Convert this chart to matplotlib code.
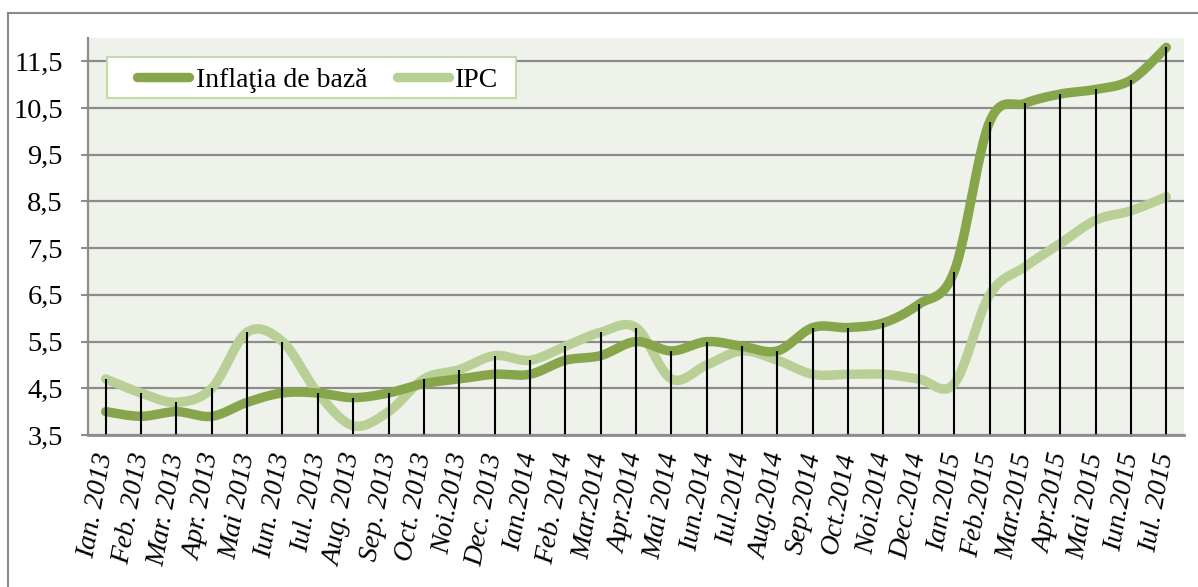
import numpy as np
import matplotlib
matplotlib.use("Agg")
import matplotlib.pyplot as plt
from matplotlib.lines import Line2D
from matplotlib.patches import Rectangle

plt.rcParams['font.family'] = ['Liberation Serif', 'DejaVu Serif']

months = ["Ian. 2013", "Feb. 2013", "Mar. 2013", "Apr. 2013", "Mai 2013", "Iun. 2013",
          "Iul. 2013", "Aug. 2013", "Sep. 2013", "Oct. 2013", "Noi.2013", "Dec. 2013",
          "Ian.2014", "Feb. 2014", "Mar.2014", "Apr.2014", "Mai 2014", "Iun.2014",
          "Iul.2014", "Aug.2014", "Sep.2014", "Oct.2014", "Noi.2014", "Dec.2014",
          "Ian.2015", "Feb.2015", "Mar.2015", "Apr.2015", "Mai 2015", "Iun.2015", "Iul. 2015"]
core = [4.0, 3.9, 4.0, 3.9, 4.2, 4.4, 4.4, 4.3, 4.4, 4.6, 4.7, 4.8, 4.8, 5.1, 5.2, 5.5,
        5.3, 5.5, 5.4, 5.3, 5.8, 5.8, 5.9, 6.3, 7.0, 10.2, 10.6, 10.8, 10.9, 11.1, 11.8]
ipc = [4.7, 4.4, 4.2, 4.5, 5.7, 5.5, 4.4, 3.7, 4.0, 4.7, 4.9, 5.2, 5.1, 5.4, 5.7, 5.8,
       4.7, 5.0, 5.3, 5.1, 4.8, 4.8, 4.8, 4.7, 4.6, 6.5, 7.1, 7.6, 8.1, 8.3, 8.6]
yticks = [3.5, 4.5, 5.5, 6.5, 7.5, 8.5, 9.5, 10.5, 11.5]
labels = ["Inflaţia de bază", "IPC"]

CORE_C = "#87a64b"
IPC_C = "#b8cf96"


def smooth(yv, n=40):
    """Excel-style smoothed line (Catmull-Rom Bezier through the points)."""
    yv = np.asarray(yv, float)
    xv = np.arange(len(yv), dtype=float)
    P = np.column_stack([xv, yv])
    out = []
    t = np.linspace(0, 1, n)[:, None]
    for i in range(len(P) - 1):
        p0 = P[max(i - 1, 0)]
        p1 = P[i]
        p2 = P[i + 1]
        p3 = P[min(i + 2, len(P) - 1)]
        c1 = p1 + (p2 - p0) / 6.0
        c2 = p2 - (p3 - p1) / 6.0
        seg = ((1 - t) ** 3) * p1 + 3 * ((1 - t) ** 2) * t * c1 + 3 * (1 - t) * t ** 2 * c2 + t ** 3 * p2
        out.append(seg if i == 0 else seg[1:])
    out = np.vstack(out)
    return out[:, 0], out[:, 1]


fig = plt.figure(figsize=(11.98, 5.87), dpi=100)
W, H = 1198, 587


def fx(px):
    return px / W


def fy(py):
    return 1 - py / H


# outer chart frame
fig.add_artist(Line2D([fx(8), fx(8)], [0, fy(13)], color="#8a8a8a", lw=1.5, transform=fig.transFigure))
fig.add_artist(Line2D([fx(8), 1], [fy(13), fy(13)], color="#8a8a8a", lw=1.5, transform=fig.transFigure))

ax = fig.add_axes([fx(88), fy(435), (1184 - 88) / W, (435 - 38) / H])
ax.set_facecolor("#eff2ea")

x = np.arange(len(months))
ax.set_xlim(-0.5, len(months) - 0.5)
ax.set_ylim(3.5, 12.0)

for yt in yticks:
    ax.axhline(yt, color="#8c8c8c", lw=1.6, zorder=1)

xs, ys = smooth(core)
ax.plot(xs, ys, color=CORE_C, lw=6.8, solid_capstyle="round", solid_joinstyle="round", zorder=3)
xs, ys = smooth(ipc)
ax.plot(xs, ys, color=IPC_C, lw=6.8, solid_capstyle="round", solid_joinstyle="round", zorder=2)

tops = np.maximum(core, ipc)
ax.vlines(x, 3.5, tops, color="black", lw=1.5, zorder=4)

ax.set_yticks(yticks)
ax.set_yticklabels([f"{v:.1f}".replace(".", ",") for v in yticks], fontsize=20.5)
ax.set_xticks(x)
ax.set_xticklabels(months, rotation=80, rotation_mode="anchor", ha="right", va="center",
                   fontsize=20, style="italic")
ax.tick_params(axis="x", length=0, pad=13)
ax.tick_params(axis="y", length=5, width=1.5, color="#8c8c8c", pad=13)

for s in ["top", "right"]:
    ax.spines[s].set_visible(False)
ax.spines["left"].set_color("#8c8c8c")
ax.spines["left"].set_linewidth(1.6)
ax.spines["bottom"].set_color("#8c8c8c")
ax.spines["bottom"].set_linewidth(2)
ax.spines["bottom"].set_zorder(5)

# legend (drawn manually to match the boxed Excel legend)
fig.add_artist(Rectangle((fx(107), fy(98)), fx(516) - fx(107), fy(57) - fy(98),
                         transform=fig.transFigure, facecolor="white",
                         edgecolor="#c6d9a8", lw=1.5, zorder=5))
leg_items = [(labels[0], CORE_C, 137, 189, 196), (labels[1], IPC_C, 397, 449, 455)]
for lab, col, x0, x1, tx in leg_items:
    fig.add_artist(Line2D([fx(x0), fx(x1)], [fy(77.5), fy(77.5)], color=col, lw=6.8,
                          solid_capstyle="round", transform=fig.transFigure, zorder=6))
    fig.text(fx(tx), fy(87), lab, fontsize=20, va="baseline", ha="left", zorder=6)

fig.savefig("out.png", dpi=100)
